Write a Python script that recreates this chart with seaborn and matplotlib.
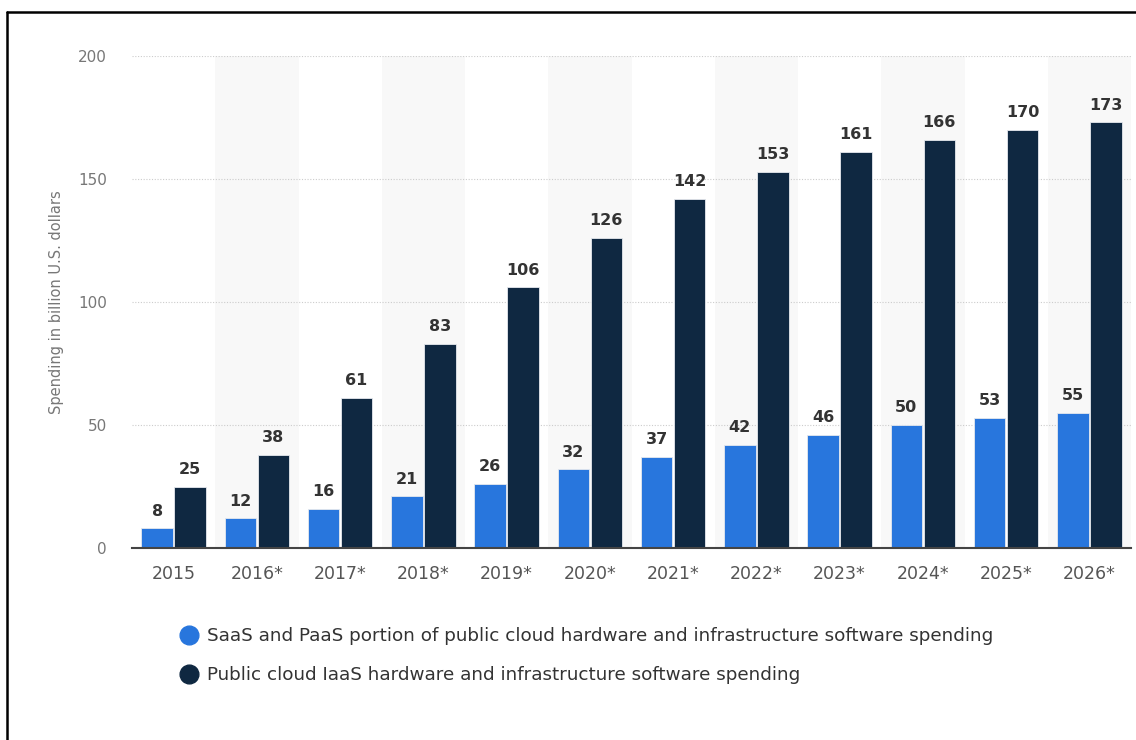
import matplotlib
matplotlib.use("Agg")
import matplotlib.pyplot as plt
from matplotlib.lines import Line2D
import pandas as pd
import seaborn as sns

# Spending data (billion U.S. dollars)
years = ["2015", "2016*", "2017*", "2018*", "2019*", "2020*", "2021*",
         "2022*", "2023*", "2024*", "2025*", "2026*"]
saas_paas = [8, 12, 16, 21, 26, 32, 37, 42, 46, 50, 53, 55]
iaas = [25, 38, 61, 83, 106, 126, 142, 153, 161, 166, 170, 173]
series_names = [
    "SaaS and PaaS portion of public cloud hardware and infrastructure software spending",
    "Public cloud IaaS hardware and infrastructure software spending",
]
colors = ["#2876dd", "#0f2841"]

df = pd.DataFrame({
    "year": years * 2,
    "value": saas_paas + iaas,
    "series": [series_names[0]] * len(years) + [series_names[1]] * len(years),
})

sns.set_theme(style="white")
plt.rcParams["font.family"] = ["DejaVu Sans"]

fig = plt.figure(figsize=(11.36, 7.40), dpi=100)
W, H = 1136, 740
ax = fig.add_axes([132 / W, 1 - 548 / H, 999 / W, (548 - 56) / H])

# alternating background bands
for i in range(len(years)):
    if i % 2 == 1:
        ax.axvspan(i - 0.5, i + 0.5, color="#f8f8f8", zorder=0, lw=0)

sns.barplot(data=df, x="year", y="value", hue="series", palette=colors,
            width=0.79, gap=0.04, saturation=1, ax=ax, legend=False, zorder=3,
            edgecolor="#e6e9ee", linewidth=0.6)

for cont in ax.containers:
    ax.bar_label(cont, fmt="%d", padding=7, fontsize=11.5, fontweight="semibold",
                 color="#333333")

ax.set_xlim(-0.5, len(years) - 0.5)
ax.set_ylim(0, 200)
ax.set_yticks([0, 50, 100, 150, 200])
ax.yaxis.grid(True, linestyle=(0, (1, 1.5)), color="#cccccc", linewidth=0.8, zorder=1)
ax.set_axisbelow(True)
for s in ["top", "right", "left"]:
    ax.spines[s].set_visible(False)
ax.spines["bottom"].set_color("#444444")
ax.spines["bottom"].set_linewidth(1.5)
ax.spines["bottom"].set_zorder(5)

ax.tick_params(axis="y", length=0, pad=18, labelsize=11, labelcolor="#777777")
ax.tick_params(axis="x", length=0, pad=12, labelsize=12.5, labelcolor="#555555")
ax.set_xlabel("")
ax.set_ylabel("Spending in billion U.S. dollars", fontsize=10.5, color="#777777", labelpad=10)

handles = [Line2D([], [], marker="o", linestyle="", markersize=13.5,
                  markerfacecolor=c, markeredgecolor=c) for c in colors]
fig.legend(handles, series_names, loc="upper left",
           bbox_to_anchor=(172 / W, 1 - 620 / H), frameon=False,
           fontsize=13.2, labelcolor="#333333", handlelength=1.0, handletextpad=0.5,
           labelspacing=1.15, borderaxespad=0)

# frame around the figure (top and left edges)
fig.add_artist(Line2D([7 / W, 1], [1 - 12 / H, 1 - 12 / H], color="black", lw=1.8))
fig.add_artist(Line2D([7 / W, 7 / W], [0, 1 - 12 / H], color="black", lw=1.8))

fig.savefig("out.png", dpi=100)
